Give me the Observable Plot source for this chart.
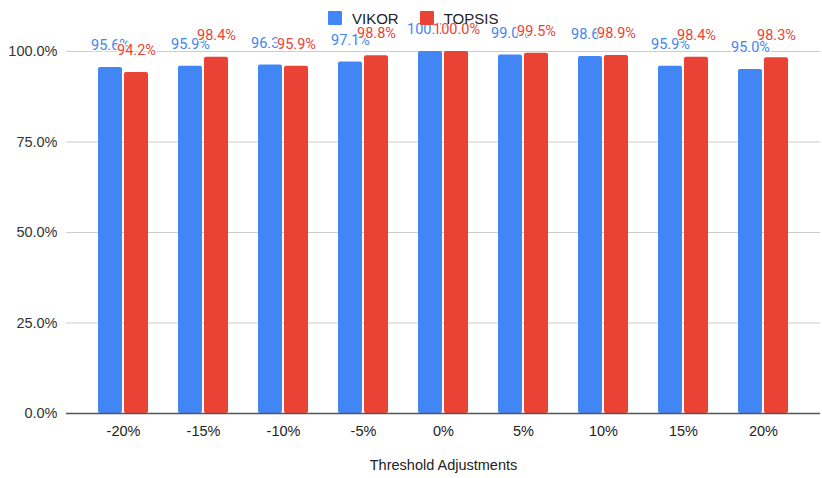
<!DOCTYPE html>
<html>
<head>
<meta charset="utf-8">
<script src="https://cdn.jsdelivr.net/npm/d3@7"></script>
<script src="https://cdn.jsdelivr.net/npm/@observablehq/plot@0.6"></script>
<style>
  body { margin: 0; background: #fff; }
  #chart { position: relative; width: 822px; height: 478px; }
  #legend {
    position: absolute; top: 11px; left: 328px;
    display: flex; align-items: center; height: 14px;
    font: 15px "Liberation Sans", Arial, sans-serif; color: #222;
  }
  #legend .sw { width: 14px; height: 14px; border-radius: 1px; margin-right: 10px; }
  #legend .item { display: flex; align-items: center; margin-right: 21px; }
</style>
</head>
<body>
<div id="chart"><div id="legend"></div></div>
<script>
// Threshold adjustment steps and the share of unchanged rankings for each method
const categories = ["-20%", "-15%", "-10%", "-5%", "0%", "5%", "10%", "15%", "20%"];
const vikor  = [0.956, 0.959, 0.963, 0.971, 1.000, 0.990, 0.986, 0.959, 0.950];
const topsis = [0.942, 0.984, 0.959, 0.988, 1.000, 0.995, 0.989, 0.984, 0.983];
const seriesNames = ["VIKOR", "TOPSIS"];
const seriesColors = ["#4285F4", "#EA4335"];
const yTicks = [0, 0.25, 0.5, 0.75, 1];
const xTitle = "Threshold Adjustments";

const rows = categories.map((c, i) => ({category: c, vikor: vikor[i], topsis: topsis[i]}));
const pct = d3.format(".1%");

// legend
const legend = document.getElementById("legend");
seriesNames.forEach((name, i) => {
  const item = document.createElement("div");
  item.className = "item";
  const sw = document.createElement("div");
  sw.className = "sw";
  sw.style.background = seriesColors[i];
  const label = document.createElement("span");
  label.textContent = name;
  item.append(sw, label);
  legend.append(item);
});

const labelStyle = {fontSize: 14.5, fontFamily: "Roboto, sans-serif", stroke: "white", strokeWidth: 3, dy: -22};

const chart = Plot.plot({
  width: 822,
  height: 478,
  marginTop: 51,
  marginBottom: 65,
  marginLeft: 66,
  marginRight: 2,
  style: {background: "transparent", fontFamily: "'Liberation Sans', Arial, sans-serif", color: "#222"},
  x: {domain: categories, paddingInner: 0.38, paddingOuter: 0.19, insetLeft: 14, insetRight: 14, label: null},
  y: {domain: [0, 1], label: null},
  marks: [
    Plot.ruleY(yTicks.filter(t => t > 0), {stroke: "#cccccc"}),
    Plot.barY(rows, {x: "category", y: "vikor", fill: seriesColors[0], insetRight: 26, rx: 2}),
    Plot.barY(rows, {x: "category", y: "topsis", fill: seriesColors[1], insetLeft: 26, rx: 2}),
    Plot.ruleY([0], {stroke: "#555", strokeWidth: 1.3}),
    Plot.axisY({ticks: yTicks, tickFormat: pct, tickSize: 0, tickPadding: 9, fontSize: 14.5, fill: "#333", label: null}),
    Plot.axisX({tickSize: 0, tickPadding: 12, fontSize: 14.5, fill: "#222", label: null}),
    Plot.text(rows, {x: "category", y: "vikor", text: d => pct(d.vikor), dx: -13, fill: seriesColors[0], ...labelStyle}),
    Plot.text(rows, {x: "category", y: "topsis", text: d => pct(d.topsis), dx: 13, fill: seriesColors[1], ...labelStyle}),
    Plot.text([xTitle], {text: d => d, frameAnchor: "bottom", dy: 56, fontSize: 14.5, fill: "#222"})
  ]
});
document.getElementById("chart").prepend(chart);
</script>
</body>
</html>
